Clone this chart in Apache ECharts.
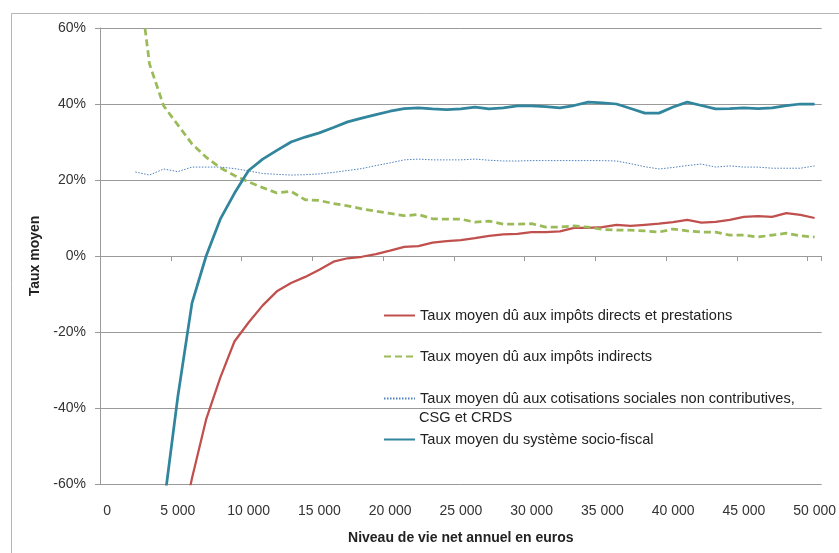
<!DOCTYPE html>
<html>
<head>
<meta charset="utf-8">
<script src="https://cdn.jsdelivr.net/npm/echarts@6/dist/echarts.min.js"></script>
<style>
  html, body { margin: 0; padding: 0; background: #fff; }
  #chart { width: 839px; height: 553px; }
</style>
</head>
<body>
<div id="chart"></div>
<script>
// niveau de vie net annuel (euros), un point tous les 1000
const revenus = [
  0, 1000, 2000, 3000, 4000, 5000, 6000, 7000, 8000, 9000,
  10000, 11000, 12000, 13000, 14000, 15000, 16000, 17000, 18000, 19000,
  20000, 21000, 22000, 23000, 24000, 25000, 26000, 27000, 28000, 29000,
  30000, 31000, 32000, 33000, 34000, 35000, 36000, 37000, 38000, 39000,
  40000, 41000, 42000, 43000, 44000, 45000, 46000, 47000, 48000, 49000,
  50000
]

// taux moyens en %
const impotsDirects = [
  null, null, null, null, null, -76, -58.5, -43, -32, -22.5,
  -17.5, -13, -9.3, -7.1, -5.5, -3.6, -1.5, -0.6, -0.2, 0.5,
  1.4, 2.4, 2.6, 3.5, 3.9, 4.2, 4.7, 5.3, 5.7, 5.8,
  6.3, 6.3, 6.5, 7.4, 7.4, 7.6, 8.2, 7.9, 8.2, 8.5,
  8.9, 9.5, 8.8, 9.0, 9.5, 10.3, 10.5, 10.3, 11.3, 10.8,
  10
]
const impotsIndirects = [
  null, null, 80, 50.5, 39.5, 34.5, 29.5, 26, 23.2, 21.2,
  19.5, 18, 16.6, 17, 14.8, 14.6, 13.8, 13.2, 12.4, 11.8,
  11.2, 10.6, 10.9, 9.8, 9.7, 9.7, 8.9, 9.2, 8.4, 8.4,
  8.5, 7.6, 7.6, 7.9, 7.6, 7, 6.8, 6.8, 6.6, 6.3,
  7.1, 6.6, 6.3, 6.3, 5.5, 5.5, 5, 5.5, 6, 5.3,
  5
]
const cotisations = [
  null, null, 22.1, 21.3, 22.9, 22.2, 23.4, 23.4, 23.4, 23,
  22.4, 21.7, 21.5, 21.3, 21.4, 21.6, 22, 22.5, 23, 23.8,
  24.5, 25.3, 25.5, 25.3, 25.3, 25.3, 25.5, 25.2, 25, 25,
  25.1, 25.1, 25.1, 25.1, 25.1, 25.1, 25, 24.3, 23.5, 22.9,
  23.3, 23.8, 24.2, 23.4, 23.7, 23.4, 23.4, 23.1, 23.1, 23.1,
  23.7
]
const systemeSocioFiscal = [
  null, null, null, null, -66, -37, -12.4, 0, 9.7, 16.5,
  22.5, 25.5, 27.8, 30, 31.3, 32.4, 33.8, 35.3, 36.3, 37.2,
  38.1, 38.8, 39, 38.7, 38.5, 38.7, 39.2, 38.7, 39, 39.5,
  39.5, 39.3, 39, 39.6, 40.5, 40.3, 40, 38.8, 37.6, 37.6,
  39.2, 40.5, 39.6, 38.7, 38.8, 39, 38.8, 39, 39.6, 40,
  40
]

const noms = [
  "Taux moyen dû aux impôts directs et prestations",
  "Taux moyen dû aux impôts indirects",
  "Taux moyen dû aux cotisations sociales non contributives,",
  "Taux moyen du système socio-fiscal"
]

const police = "'Liberation Sans', Arial, sans-serif"
const gris = "#9a9a9a"

function milliers(v) {
  return String(v).replace(/\B(?=(\d{3})+(?!\d))/g, " ")
}

// une légende par ligne, pour caler chaque entrée
function legende(nom, top) {
  return {
    data: [nom],
    left: 378,
    top: top,
    itemWidth: 31,
    itemHeight: 14,
    selectedMode: false,
    itemStyle: { opacity: 0 }, // pas de rond sur l'icône, juste le trait
    textStyle: { fontFamily: police, fontSize: 14.6, color: "#222" }
  }
}

const myChart = echarts.init(document.getElementById("chart"))

const option = {
  animation: false,
  backgroundColor: "#fff",
  textStyle: { fontFamily: police },
  grid: { left: 100, right: 15, top: 28, bottom: 69 },
  legend: [
    legende(noms[0], 303),
    legende(noms[1], 344),
    legende(noms[2], 386),
    legende(noms[3], 427)
  ],
  graphic: [
    {
      type: "rect",
      shape: { x: 11.5, y: 13.5, width: 900, height: 600 },
      style: { fill: "none", stroke: "#b5b5b5", lineWidth: 1 },
      silent: true
    },
    {
      type: "text",
      left: 419,
      top: 410,
      style: { text: "CSG et CRDS", font: "14.6px " + police, fill: "#222" }
    }
  ],
  xAxis: [
    {
      type: "category",
      data: revenus,
      boundaryGap: true,
      name: "Niveau de vie net annuel en euros",
      nameLocation: "middle",
      nameGap: 47,
      nameTextStyle: { fontFamily: police, fontSize: 14, fontWeight: "bold", color: "#222" },
      axisLine: { show: false, onZero: false },
      axisTick: { show: false },
      axisLabel: {
        interval: 4,
        margin: 20,
        fontFamily: police,
        fontSize: 14,
        color: "#333",
        formatter: milliers
      },
      splitLine: { show: false }
    },
    {
      // axe horizontal remonté à 0 % avec ses graduations
      type: "category",
      data: revenus,
      boundaryGap: true,
      position: "bottom",
      offset: -228,
      axisLine: { show: true, onZero: false, lineStyle: { color: gris } },
      axisTick: { show: true, interval: 4, length: 5, lineStyle: { color: gris } },
      axisLabel: { show: false },
      splitLine: { show: false }
    }
  ],
  yAxis: {
    type: "value",
    min: -60,
    max: 60,
    interval: 20,
    name: "Taux moyen",
    nameLocation: "middle",
    nameRotate: 90,
    nameGap: 53,
    nameTextStyle: { fontFamily: police, fontSize: 14, fontWeight: "bold", color: "#222" },
    axisLine: { show: true, lineStyle: { color: gris } },
    axisTick: { show: true, length: 5, lineStyle: { color: gris } },
    axisLabel: {
      margin: 14,
      fontFamily: police,
      fontSize: 14,
      color: "#333",
      formatter: "{value}%"
    },
    splitLine: { show: true, lineStyle: { color: gris, width: 1 } }
  },
  series: [
    {
      name: noms[0],
      type: "line",
      xAxisIndex: 0,
      symbol: "none",
      data: impotsDirects,
      lineStyle: { color: "#C0504D", width: 2.25 },
      itemStyle: { color: "#C0504D" }
    },
    {
      name: noms[1],
      type: "line",
      xAxisIndex: 0,
      symbol: "none",
      data: impotsIndirects,
      lineStyle: { color: "#9BBB59", width: 2.75, type: [7, 4] },
      itemStyle: { color: "#9BBB59" }
    },
    {
      name: noms[2],
      type: "line",
      xAxisIndex: 0,
      symbol: "none",
      data: cotisations,
      lineStyle: { color: "#4F81BD", width: 1, type: [1.5, 1.5] },
      itemStyle: { color: "#4F81BD" }
    },
    {
      name: noms[3],
      type: "line",
      xAxisIndex: 0,
      symbol: "none",
      data: systemeSocioFiscal,
      lineStyle: { color: "#31859C", width: 2.75 },
      itemStyle: { color: "#31859C" }
    }
  ]
}
myChart.setOption(option, true)
</script>
</body>
</html>
